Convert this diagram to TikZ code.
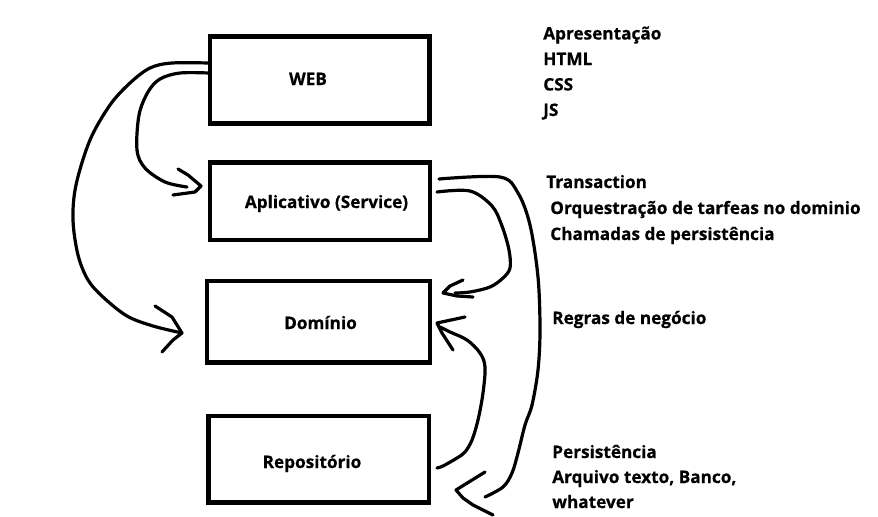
\documentclass[tikz,border=0pt]{standalone}
\usepackage{fontspec}
\setmainfont{Open Sans}[BoldFeatures={FakeBold=0.6}]
\usetikzlibrary{calc}
\begin{document}
\begin{tikzpicture}[x=0.75pt,y=-0.75pt,
  box/.style={draw, line width=3.4pt, minimum width=#1, inner sep=0pt, outer sep=0pt},
  lbl/.style={font=\bfseries\fontsize{12.9}{15}\selectfont, inner sep=0pt, anchor=base west},
  intxt/.style={font=\bfseries\fontsize{12.9}{15}\selectfont, inner sep=0pt, anchor=base},
  hand/.style={line width=2.4pt, line cap=round, line join=round}]
\useasboundingbox (0,0) rectangle (878,517);
% boxes
\node[box=164.6pt, minimum height=65.2pt] (web) at (319.75,80) {};
\node[box=165pt, minimum height=58.1pt] (apl) at (320,201.25) {};
\node[box=167.2pt, minimum height=61.1pt] (dom) at (318.5,321.75) {};
\node[box=165.4pt, minimum height=64.9pt] (rep) at (318.75,459.25) {};
% box texts
\node[intxt] (webt) at (308,85) {WEB};
\node[intxt] (aplt) at (326.5,208) {Aplicativo (Service)};
\node[intxt] (domt) at (320.5,329) {Domínio};
\node[intxt] (rept) at (312,468) {Repositório};
% side texts
\node[lbl] (t1) at (543,39.5) {Apresentação};
\node[lbl] (t2) at (543,65) {HTML};
\node[lbl] (t3) at (543,90.5) {CSS};
\node[lbl] (t4) at (543,116) {JS};
\node[lbl] (t5) at (546,188) {Transaction};
\node[lbl] (t6) at (550,214) {Orquestração de tarfeas no dominio};
\node[lbl] (t7) at (550,240) {Chamadas de persistência};
\node[lbl] (t8) at (552,324) {Regras de negócio};
\node[lbl] (t9) at (552,458) {Persistência};
\node[lbl] (t10) at (552,483) {Arquivo texto, Banco,};
\node[lbl] (t11) at (552,508) {whatever};
% connector end points
\coordinate (a1s) at ($(web.north west)!0.42!(web.south west)$);
\coordinate (a2s) at ($(web.north west)!0.305!(web.south west)$);
\coordinate (a1t) at (201,186);
\coordinate (a2t) at (182,333);
\coordinate (a3s) at (437,192);
\coordinate (a3t) at (443,293);
\coordinate (a4s) at (439,179);
\coordinate (a4t) at (456,490);
\coordinate (a5s) at (437,468);
\coordinate (a5t) at (437,323);
% WEB -> Aplicativo
\draw[hand] plot[smooth, tension=0.55] coordinates {(a1s) (180,73) (160,79) (148,92) (139,115) (137,150) (145,168) (165,182) (187,187)};
\draw[hand] (178,169) -- (188,175) -- (a1t) -- (195,192) -- (173,195);
% WEB -> Dominio
\draw[hand] plot[smooth, tension=0.55] coordinates {(a2s) (172,63) (150,68) (130,83) (110,105) (90,140) (76,185) (73,220) (78,255) (88,280) (103,297) (127,316) (153,326) (a2t)};
\draw[hand] (155,306) -- (172,317) -- (a2t) -- (173,340) -- (162,352);
% Aplicativo -> Dominio
\draw[hand] plot[smooth, tension=0.55] coordinates {(a3s) (470,191) (492,206) (502,226) (509,250) (510,268) (503,278) (490,287) (470,292) (455,293)};
\draw[hand] (463,280) -- (450,286) -- (a3t) -- (457,296) -- (473,297);
% Aplicativo -> Repositorio
\draw[hand] plot[smooth, tension=0.55] coordinates {(a4s) (500,177) (518,193) (530,225) (538,277) (540,330) (538,370) (532,405) (525,425) (518,453) (512,473) (503,487) (485,497)};
\draw[hand] (485,472) -- (a4t) -- (463,498) -- (473,505) -- (493,515);
% Repositorio -> Dominio
\draw[hand] plot[smooth, tension=0.55] coordinates {(a5s) (443,466) (457,458) (465,452) (472,440) (478,420) (483,393) (485,367) (480,353) (467,340) (450,332) (440,327)};
\draw[hand] (465,317) -- (a5t) -- (442,333) -- (453,350);
\end{tikzpicture}
\end{document}
